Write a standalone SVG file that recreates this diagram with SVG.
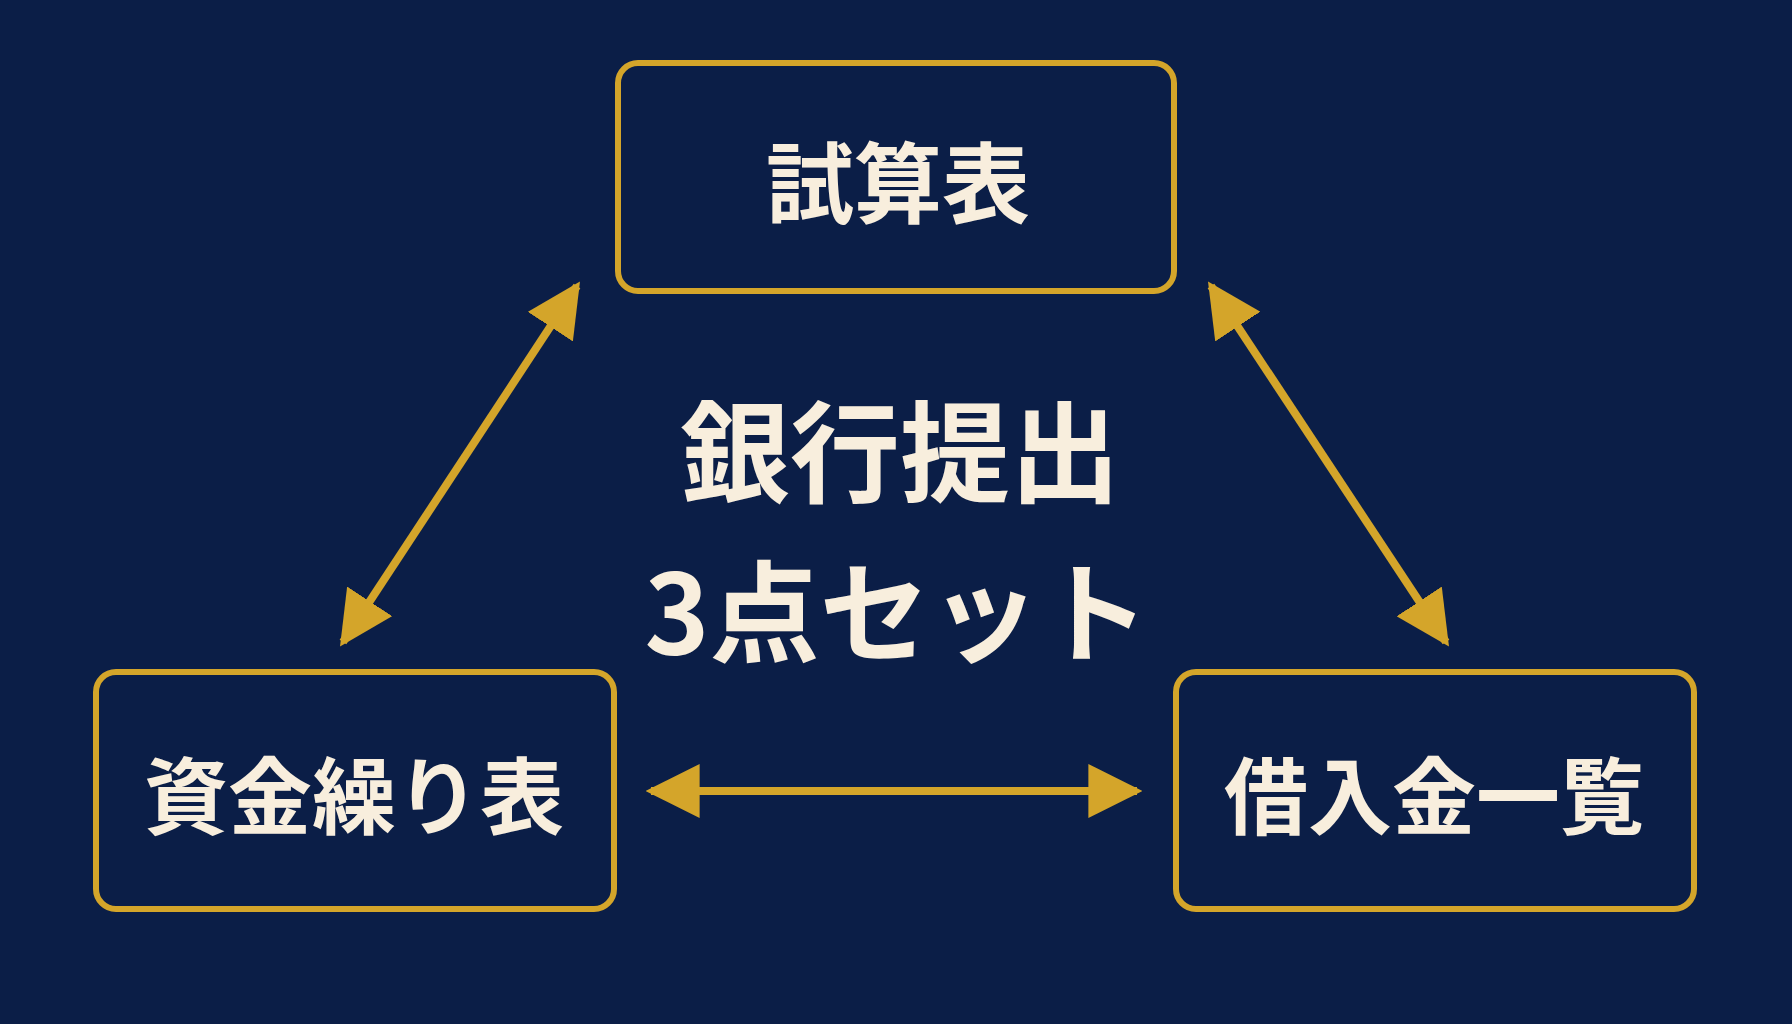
<svg xmlns="http://www.w3.org/2000/svg" width="1792" height="1024" viewBox="0 0 1792 1024">
<style>
.box{fill:none;stroke:#d4a52a;stroke-width:6}
.lbl{font-family:"Noto Sans CJK JP",sans-serif;font-weight:700;fill:#f8eedd;text-anchor:middle;dominant-baseline:central}
.con{stroke:#d4a52a;stroke-width:8;fill:none}
</style>
<defs>
<marker id="ah" viewBox="0 0 10 10" refX="9" refY="5" markerUnits="userSpaceOnUse" markerWidth="54" markerHeight="54" orient="auto-start-reverse">
<path d="M0,0 L10,5 L0,10 z" fill="#d4a52a"/>
</marker>
</defs>
<rect width="1792" height="1024" fill="#0b1e47"/>
<g id="n-top"><rect class="box" x="618" y="63" width="556" height="228" rx="20"/><text class="lbl" x="898" y="177" font-size="88">試算表</text></g>
<g id="n-left"><rect class="box" x="96" y="672" width="518" height="237" rx="20"/><text class="lbl" x="354" y="791" font-size="84">資金繰り表</text></g>
<g id="n-right"><rect class="box" x="1176" y="672" width="518" height="237" rx="20"/><text class="lbl" x="1434" y="791" font-size="84">借入金一覧</text></g>
<g id="n-center"><text class="lbl" x="900" y="446" font-size="110">銀行提出</text><text class="lbl" x="897" y="606" font-size="110">3点セット</text></g>
<g id="connectors">
<line class="con" x1="343" y1="642" x2="577" y2="286" marker-start="url(#ah)" marker-end="url(#ah)"/>
<line class="con" x1="1211" y1="286" x2="1446" y2="642" marker-start="url(#ah)" marker-end="url(#ah)"/>
<line class="con" x1="651" y1="791" x2="1137" y2="791" marker-start="url(#ah)" marker-end="url(#ah)"/>
</g>
</svg>
